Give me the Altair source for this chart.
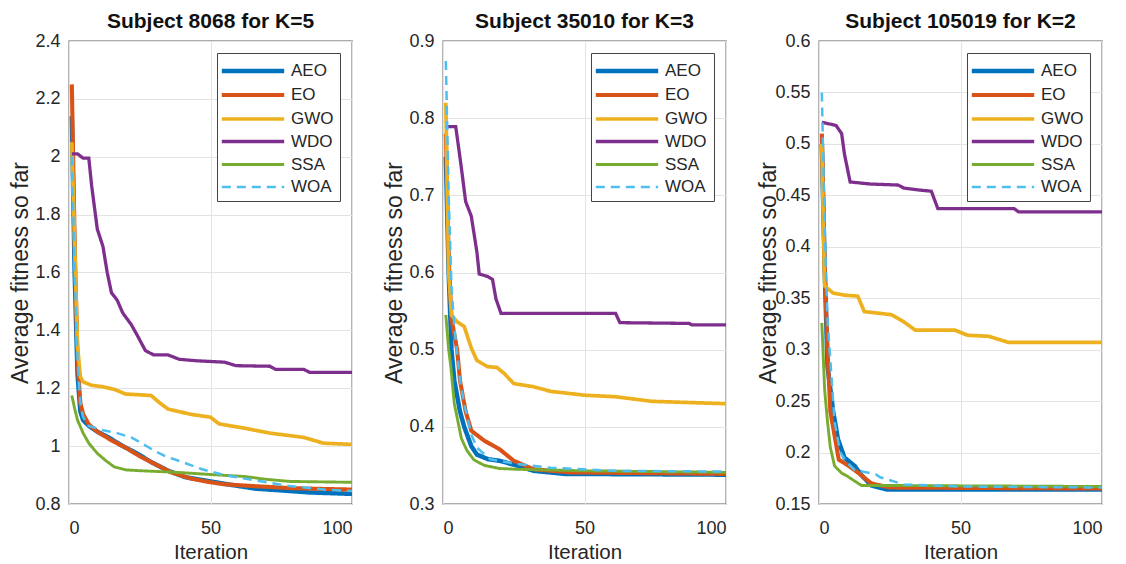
import altair as alt
import pandas as pd

ALGOS = ["AEO", "EO", "GWO", "WDO", "SSA", "WOA"]
COLORS = ["#0072BD", "#D95319", "#EDB120", "#7E2F8E", "#77AC30", "#4DBEEE"]
WIDTHS = [4.5, 2.5, 2.5, 2.5, 2.5, 3]
DASHES = [[1, 0], [1, 0], [1, 0], [1, 0], [1, 0], [9, 6]]

TITLES = ["Subject 8068 for K=5", "Subject 35010 for K=3", "Subject 105019 for K=2"]

# ---------------- Panel 1 ----------------
p1_AEO_x = [1, 2, 3, 4, 5, 7, 10, 14, 19, 24, 29, 35, 41, 50, 58, 66, 75, 85, 100]
p1_AEO_y = [2.14, 1.6, 1.25, 1.12, 1.09, 1.07, 1.05, 1.03, 1.0, 0.975, 0.945, 0.915, 0.893, 0.878, 0.865, 0.853, 0.847, 0.84, 0.835]
p1_EO_x = [1, 2, 3, 4, 5, 7, 10, 15, 20, 25, 30, 36, 43, 50, 55, 65, 78, 90, 100]
p1_EO_y = [2.25, 1.7, 1.3, 1.15, 1.11, 1.075, 1.05, 1.02, 0.995, 0.965, 0.94, 0.91, 0.888, 0.875, 0.868, 0.862, 0.855, 0.852, 0.85]
p1_GWO_x = [1, 2, 3, 4, 5, 8, 12, 16, 20, 29, 32, 35, 43, 50, 53, 62, 71, 83, 90, 100]
p1_GWO_y = [2.05, 1.7, 1.35, 1.24, 1.222, 1.21, 1.205, 1.196, 1.18, 1.175, 1.15, 1.128, 1.11, 1.1, 1.077, 1.062, 1.045, 1.03, 1.01, 1.006]
p1_WDO_x = [1, 3, 5, 7, 8, 10, 12, 13.5, 15, 17, 19, 22, 24, 27, 30, 35, 39, 45, 55, 59, 71, 73, 83, 85, 100]
p1_WDO_y = [2.01, 2.01, 1.995, 1.995, 1.9, 1.75, 1.69, 1.6, 1.53, 1.505, 1.46, 1.42, 1.385, 1.33, 1.315, 1.315, 1.30, 1.295, 1.29, 1.278, 1.276, 1.265, 1.265, 1.255, 1.255]
p1_SSA_x = [1, 2, 3, 5, 7, 10, 13, 16, 20, 25, 37, 50, 62, 70, 78, 100]
p1_SSA_y = [1.175, 1.13, 1.09, 1.045, 1.01, 0.975, 0.95, 0.928, 0.918, 0.915, 0.91, 0.902, 0.895, 0.885, 0.878, 0.875]
p1_WOA_x = [1, 2, 3, 4, 5, 7, 12, 17, 22, 26, 30, 34, 40, 47, 55, 62, 70, 78, 90, 100]
p1_WOA_y = [2.0, 1.6, 1.3, 1.15, 1.1, 1.07, 1.055, 1.045, 1.03, 1.008, 0.985, 0.965, 0.945, 0.92, 0.9, 0.888, 0.875, 0.862, 0.85, 0.845]

# ---------------- Panel 2 ----------------
p2_AEO_x = [1, 2, 3, 4, 6, 7.5, 10, 12, 16, 20, 26, 32, 43, 100]
p2_AEO_y = [0.75, 0.6, 0.5, 0.46, 0.42, 0.4, 0.375, 0.364, 0.358, 0.356, 0.35, 0.343, 0.339, 0.338]
p2_EO_x = [1, 2, 3, 5, 6, 8, 10, 14.6, 20, 25, 32, 45, 100]
p2_EO_y = [0.78, 0.62, 0.54, 0.5, 0.46, 0.42, 0.395, 0.382, 0.371, 0.356, 0.345, 0.341, 0.339]
p2_GWO_x = [1, 2, 3, 5, 7.5, 10, 12, 15.7, 19, 21.7, 25, 32, 38, 50, 61, 74, 100]
p2_GWO_y = [0.82, 0.6, 0.545, 0.536, 0.53, 0.502, 0.486, 0.478, 0.477, 0.469, 0.456, 0.452, 0.446, 0.441, 0.439, 0.433, 0.43]
p2_WDO_x = [1, 4.5, 6.3, 8, 10, 12, 12.8, 15.7, 17.5, 18.7, 20.5, 61, 62.5, 87, 88, 100]
p2_WDO_y = [0.789, 0.789, 0.741, 0.692, 0.673, 0.626, 0.598, 0.595, 0.591, 0.566, 0.547, 0.547, 0.535, 0.534, 0.532, 0.532]
p2_SSA_x = [1, 2, 2.7, 4, 5, 6.5, 8.5, 11, 14.6, 20, 26, 50, 100]
p2_SSA_y = [0.545, 0.5, 0.48, 0.43, 0.412, 0.385, 0.369, 0.357, 0.35, 0.346, 0.345, 0.343, 0.341]
p2_WOA_x = [1, 2, 3, 4, 6, 7.5, 10, 12, 16.7, 26, 38, 60, 100]
p2_WOA_y = [0.874, 0.7, 0.58, 0.53, 0.46, 0.43, 0.39, 0.373, 0.358, 0.352, 0.347, 0.343, 0.342]

# ---------------- Panel 3 ----------------
p3_AEO_x = [1, 2, 3, 5, 6.7, 9, 12.6, 15, 18.5, 24, 100]
p3_AEO_y = [0.5, 0.38, 0.284, 0.24, 0.213, 0.195, 0.187, 0.178, 0.168, 0.164, 0.164]
p3_EO_x = [1, 2, 3, 4, 7, 10, 14, 18.5, 25, 100]
p3_EO_y = [0.51, 0.38, 0.3, 0.24, 0.193, 0.188, 0.18, 0.17, 0.166, 0.165]
p3_GWO_x = [1, 2, 5, 9, 13.7, 16, 25.6, 30, 34, 48, 52.5, 60, 67, 100]
p3_GWO_y = [0.5, 0.362, 0.355, 0.353, 0.352, 0.337, 0.334, 0.327, 0.319, 0.319, 0.314, 0.313, 0.307, 0.307]
p3_WDO_x = [1, 6, 8, 9, 11, 18, 28, 30, 36, 39.7, 42, 69, 70.5, 100]
p3_WDO_y = [0.521, 0.518, 0.51, 0.49, 0.463, 0.461, 0.46, 0.457, 0.455, 0.454, 0.437, 0.437, 0.434, 0.434]
p3_SSA_x = [1, 2, 3, 4, 5.5, 8, 10, 15, 24, 100]
p3_SSA_y = [0.326, 0.261, 0.23, 0.205, 0.187, 0.18, 0.177, 0.168, 0.168, 0.167]
p3_WOA_x = [1, 2, 3, 4, 5.5, 7.5, 10, 12.6, 20, 21.6, 30, 50, 100]
p3_WOA_y = [0.55, 0.42, 0.33, 0.29, 0.23, 0.2, 0.19, 0.183, 0.179, 0.176, 0.169, 0.167, 0.166]

Y_DOMAINS = [[0.8, 2.4], [0.3, 0.9], [0.15, 0.6]]
Y_TICKS = [
    [0.8, 1.0, 1.2, 1.4, 1.6, 1.8, 2.0, 2.2, 2.4],
    [0.3, 0.4, 0.5, 0.6, 0.7, 0.8, 0.9],
    [0.15, 0.2, 0.25, 0.3, 0.35, 0.4, 0.45, 0.5, 0.55, 0.6],
]
Y_FORMATS = [".1~f", ".1~f", ".2~f"]
Y_EXTENTS = [33, 33, 35]
X_TICKS = [0, 50, 100]

PANELS = [
    {"AEO": (p1_AEO_x, p1_AEO_y), "EO": (p1_EO_x, p1_EO_y), "GWO": (p1_GWO_x, p1_GWO_y),
     "WDO": (p1_WDO_x, p1_WDO_y), "SSA": (p1_SSA_x, p1_SSA_y), "WOA": (p1_WOA_x, p1_WOA_y)},
    {"AEO": (p2_AEO_x, p2_AEO_y), "EO": (p2_EO_x, p2_EO_y), "GWO": (p2_GWO_x, p2_GWO_y),
     "WDO": (p2_WDO_x, p2_WDO_y), "SSA": (p2_SSA_x, p2_SSA_y), "WOA": (p2_WOA_x, p2_WOA_y)},
    {"AEO": (p3_AEO_x, p3_AEO_y), "EO": (p3_EO_x, p3_EO_y), "GWO": (p3_GWO_x, p3_GWO_y),
     "WDO": (p3_WDO_x, p3_WDO_y), "SSA": (p3_SSA_x, p3_SSA_y), "WOA": (p3_WOA_x, p3_WOA_y)},
]

FONT = "Liberation Sans"

charts = []
for i, panel in enumerate(PANELS):
    rows = []
    for k, algo in enumerate(ALGOS):
        xs, ys = panel[algo]
        for x, y in zip(xs, ys):
            rows.append({"Iteration": x, "value": y, "algo": algo})
    df = pd.DataFrame(rows)
    legend = alt.Legend(
        title=None,
        orient="top-right",
        offset=12,
        padding=6,
        fillColor="white",
        strokeColor="#444444",
        symbolType="M-3.2,0H3.2",
        symbolSize=380,
        symbolOffset=18,
        labelOffset=26,
        labelFont=FONT,
        labelFontSize=17,
        labelColor="#262626",
        rowPadding=3,
        labelLimit=200,
    )
    c = alt.Chart(df).mark_line(clip=True).encode(
        x=alt.X("Iteration:Q",
                scale=alt.Scale(domain=[0, 100], nice=False),
                axis=alt.Axis(values=X_TICKS, title="Iteration", labelPadding=15,
                              titlePadding=5)),
        y=alt.Y("value:Q",
                scale=alt.Scale(domain=Y_DOMAINS[i], nice=False, zero=False),
                axis=alt.Axis(values=Y_TICKS[i], format=Y_FORMATS[i],
                              title="Average fitness so far", labelPadding=9,
                              titlePadding=4, minExtent=Y_EXTENTS[i],
                              maxExtent=Y_EXTENTS[i])),
        color=alt.Color("algo:N", scale=alt.Scale(domain=ALGOS, range=COLORS), legend=legend),
        strokeDash=alt.StrokeDash("algo:N", scale=alt.Scale(domain=ALGOS, range=DASHES), legend=legend),
        strokeWidth=alt.StrokeWidth("algo:N", scale=alt.Scale(domain=ALGOS, range=WIDTHS), legend=legend),
        order="Iteration:Q",
    ).properties(
        width=283, height=463,
        title=alt.TitleParams(TITLES[i], fontSize=21, fontWeight="bold", font=FONT,
                              color="#111111", offset=0, frame="group", anchor="middle"),
    )
    charts.append(c)

chart = alt.hconcat(*charts, spacing=29).resolve_scale(
    x="independent", y="independent", color="independent",
    strokeDash="independent", strokeWidth="independent",
).resolve_legend(
    color="independent", strokeDash="independent", strokeWidth="independent"
).configure(
    background="white", padding={"left": 0, "top": 2, "right": 2, "bottom": 2}
).configure_view(
    stroke="#5a5a5a", strokeWidth=1.3
).configure_axis(
    labelFont=FONT, titleFont=FONT, labelFontSize=18, titleFontSize=20.5,
    titleFontWeight="normal", labelColor="#262626", titleColor="#262626",
    gridColor="#e3e3e3", gridWidth=1, domain=False, ticks=False, tickSize=0,
).configure_axisY(
    titleFontSize=23
)

chart.save("out.html", embed_options={"renderer": "svg", "actions": False})
